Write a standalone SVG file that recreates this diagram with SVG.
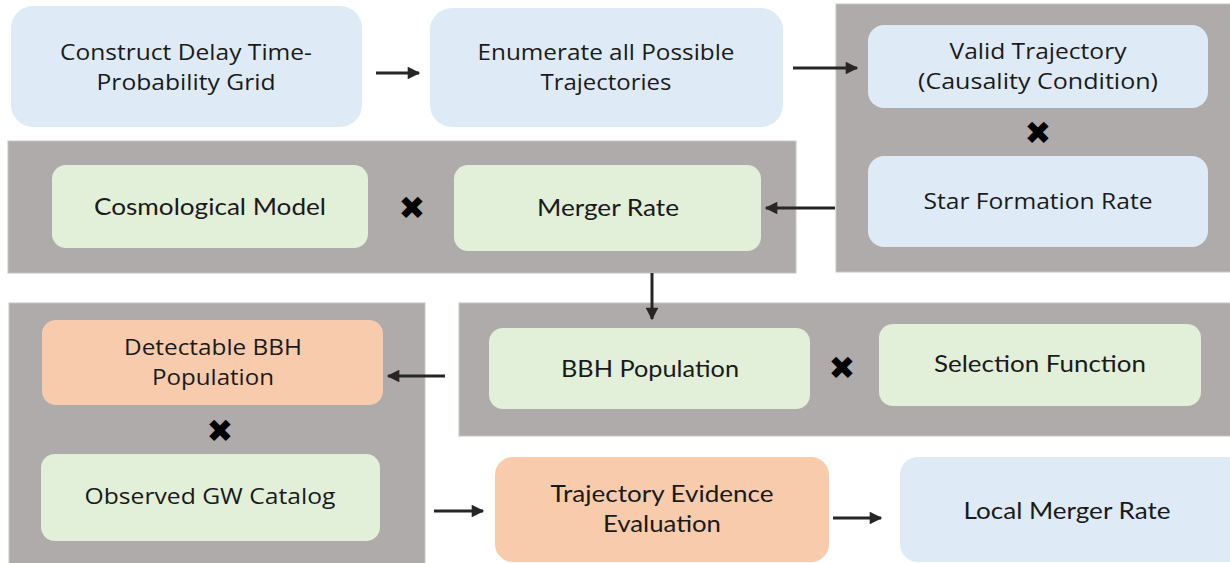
<svg xmlns="http://www.w3.org/2000/svg" width="1230" height="563" viewBox="0 0 1230 563">
<style>
.grp{fill:#afabab;stroke:#c8c5c5;stroke-width:1}
.blue{fill:#deebf7}
.green{fill:#e2efd9}
.orange{fill:#f8cbad}
.t{font-family:"Open Sans","Liberation Sans",sans-serif;font-size:21px;fill:#1a1a1a;text-anchor:middle}
.c{font-family:Lato,"Liberation Sans",sans-serif;font-size:24px;fill:#1a1a1a;text-anchor:middle}
.x{font-family:"DejaVu Sans",sans-serif;font-size:32px;fill:#000;text-anchor:middle}
.ar{stroke:#262626;stroke-width:3;fill:none;marker-end:url(#ah)}
</style>
<defs>
<marker id="ah" viewBox="0 0 10 10" refX="9" refY="5" markerWidth="5" markerHeight="4.2" orient="auto" markerUnits="strokeWidth">
<path d="M0,0 L10,5 L0,10 z" fill="#262626"/>
</marker>
</defs>
<rect width="1230" height="563" fill="#fff"/>
<g id="group-sfr"><rect class="grp" x="836" y="4" width="400" height="268"/></g>
<g id="group-merger"><rect class="grp" x="8" y="141" width="788" height="132"/></g>
<g id="group-bbh"><rect class="grp" x="459" y="303" width="777" height="133"/></g>
<g id="group-detect"><rect class="grp" x="9" y="303" width="416" height="266"/></g>

<g id="n-grid"><rect class="blue" x="11" y="6" width="351" height="121" rx="22"/>
<text class="t" x="186" y="60" textLength="252" lengthAdjust="spacingAndGlyphs">Construct Delay Time-</text>
<text class="t" x="186" y="90" textLength="179" lengthAdjust="spacingAndGlyphs">Probability Grid</text></g>

<g id="n-enum"><rect class="blue" x="430" y="8" width="353" height="119" rx="22"/>
<text class="t" x="606" y="60" textLength="257" lengthAdjust="spacingAndGlyphs">Enumerate all Possible</text>
<text class="t" x="606" y="90" textLength="131" lengthAdjust="spacingAndGlyphs">Trajectories</text></g>

<g id="n-valid"><rect class="blue" x="868" y="25" width="340" height="83" rx="16"/>
<text class="t" x="1038" y="59" textLength="177" lengthAdjust="spacingAndGlyphs">Valid Trajectory</text>
<text class="t" x="1038" y="89" textLength="240" lengthAdjust="spacingAndGlyphs">(Causality Condition)</text></g>
<g id="x1"><text class="x" x="1038" y="144">✖</text></g>

<g id="n-sfr"><rect class="blue" x="868" y="156" width="340" height="91" rx="16"/>
<text class="t" x="1038" y="209" textLength="229" lengthAdjust="spacingAndGlyphs">Star Formation Rate</text></g>

<g id="n-cosmo"><rect class="green" x="52" y="165" width="316" height="83" rx="14"/>
<text class="c" x="210" y="215" textLength="232" lengthAdjust="spacingAndGlyphs">Cosmological Model</text></g>
<g id="x2"><text class="x" x="412" y="219">✖</text></g>

<g id="n-merger"><rect class="green" x="454" y="165" width="307" height="86" rx="14"/>
<text class="c" x="608" y="216" textLength="142" lengthAdjust="spacingAndGlyphs">Merger Rate</text></g>

<g id="n-bbh"><rect class="green" x="489" y="328" width="321" height="81" rx="14"/>
<text class="c" x="650" y="377" textLength="178" lengthAdjust="spacingAndGlyphs">BBH Population</text></g>
<g id="x3"><text class="x" x="842" y="379">✖</text></g>

<g id="n-sel"><rect class="green" x="879" y="324" width="322" height="82" rx="14"/>
<text class="c" x="1040" y="372" textLength="212" lengthAdjust="spacingAndGlyphs">Selection Function</text></g>

<g id="n-detect"><rect class="orange" x="42" y="320" width="341" height="85" rx="14"/>
<text class="t" x="213" y="355" textLength="178" lengthAdjust="spacingAndGlyphs">Detectable BBH</text>
<text class="t" x="213" y="385" textLength="122" lengthAdjust="spacingAndGlyphs">Population</text></g>
<g id="x4"><text class="x" x="220" y="442">✖</text></g>

<g id="n-obs"><rect class="green" x="41" y="454" width="339" height="87" rx="14"/>
<text class="t" x="210" y="504" textLength="251" lengthAdjust="spacingAndGlyphs">Observed GW Catalog</text></g>

<g id="n-evid"><rect class="orange" x="495" y="457" width="334" height="105" rx="18"/>
<text class="c" x="662" y="502" textLength="223" lengthAdjust="spacingAndGlyphs">Trajectory Evidence</text>
<text class="c" x="662" y="532" textLength="118" lengthAdjust="spacingAndGlyphs">Evaluation</text></g>

<g id="n-local"><rect class="blue" x="900" y="457" width="345" height="105" rx="18"/>
<text class="c" x="1067" y="519" textLength="207" lengthAdjust="spacingAndGlyphs">Local Merger Rate</text></g>

<g id="connectors">
<line class="ar" x1="376" y1="73" x2="419" y2="73"/>
<line class="ar" x1="793" y1="68" x2="857" y2="68"/>
<line class="ar" x1="835" y1="208" x2="766" y2="208"/>
<line class="ar" x1="652" y1="273" x2="652" y2="319"/>
<line class="ar" x1="445" y1="376" x2="388" y2="376"/>
<line class="ar" x1="434" y1="511" x2="483" y2="511"/>
<line class="ar" x1="833" y1="518" x2="881" y2="518"/>
</g>
</svg>
